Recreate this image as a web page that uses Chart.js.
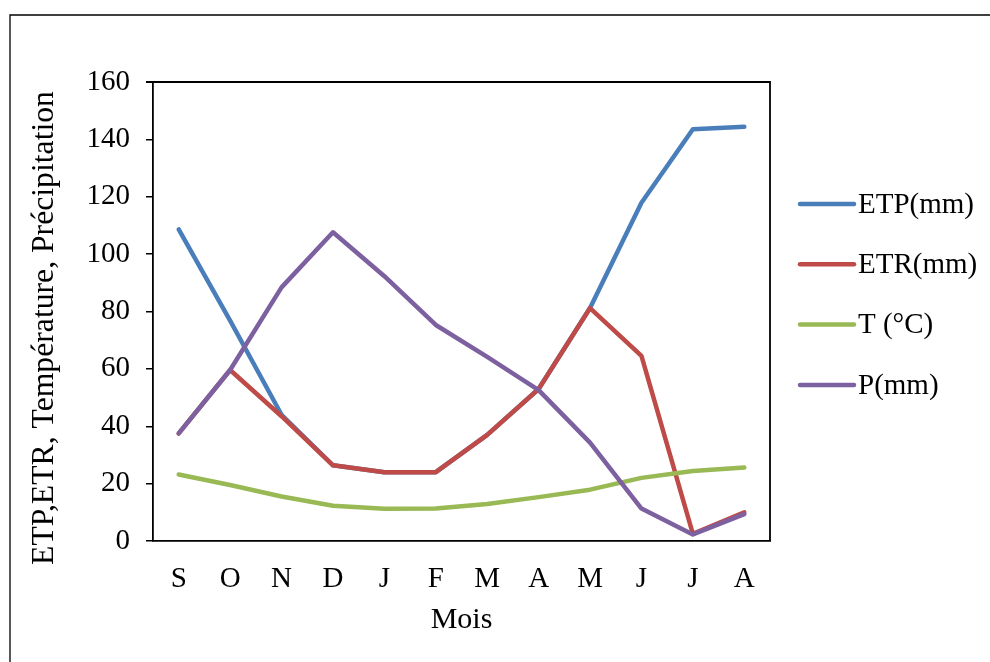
<!DOCTYPE html>
<html>
<head>
<meta charset="utf-8">
<script src="https://cdn.jsdelivr.net/npm/chart.js@4/dist/chart.umd.min.js"></script>
<style>
  html, body { margin: 0; padding: 0; background: #fff; }
  canvas { display: block; }
</style>
</head>
<body>
<canvas id="c" width="990" height="662"></canvas>
<script>
// Monthly water balance (hydrological year September → August)
const months = ['S', 'O', 'N', 'D', 'J', 'F', 'M', 'A', 'M', 'J', 'J', 'A'];
const etp    = [108.6, 76.8, 44.0, 26.4, 24.0, 24.0, 37.0, 53.0, 81.2, 117.9, 143.5, 144.4];
const etr    = [37.5, 59.6, 43.5, 26.4, 24.0, 24.0, 37.0, 53.0, 81.2, 64.5, 2.5, 10.0];
const temp   = [23.2, 19.5, 15.5, 12.3, 11.2, 11.3, 12.9, 15.3, 17.9, 22.0, 24.4, 25.6];
const precip = [37.5, 59.6, 88.4, 107.6, 92.3, 75.3, 64.2, 52.6, 34.3, 11.3, 2.3, 9.4];

const seriesNames = ['ETP(mm)', 'ETR(mm)', 'T (°C)', 'P(mm)'];
const yTicks = { min: 0, max: 160, step: 20 };
const xTitle = 'Mois';
const yTitle = 'ETP,ETR, Température, Précipitation';

const FONT = '"Liberation Serif", "Times New Roman", serif';

function series(label, data, color, order) {
  return {
    label, data, order,
    borderColor: color,
    backgroundColor: color,
    borderWidth: 4.5,
    borderCapStyle: 'round',
    borderJoinStyle: 'round',
    pointRadius: 0,
    pointHoverRadius: 0,
    tension: 0,
    fill: false
  };
}

// Page frame, plot box edges, rotated y title and the legend on the right
const decorations = {
  id: 'decorations',
  beforeDraw(chart) {
    const ctx = chart.ctx;
    ctx.save();
    ctx.fillStyle = '#fff';
    ctx.fillRect(0, 0, chart.width, chart.height);
    ctx.restore();
  },
  afterDraw(chart) {
    const { ctx, chartArea: a } = chart;
    ctx.save();

    // top and right edges of the plot box
    ctx.strokeStyle = '#000';
    ctx.lineWidth = 1.8;
    ctx.beginPath();
    ctx.moveTo(a.left - 7, a.top);
    ctx.lineTo(a.right, a.top);
    ctx.lineTo(a.right, a.bottom);
    ctx.stroke();

    // outer frame (top and left)
    ctx.lineWidth = 1.3;
    ctx.beginPath();
    ctx.moveTo(chart.width, 15);
    ctx.lineTo(10, 15);
    ctx.lineTo(10, chart.height);
    ctx.stroke();

    // y axis title
    ctx.save();
    ctx.translate(45, 328);
    ctx.rotate(-Math.PI / 2);
    ctx.font = '31.7px ' + FONT;
    ctx.fillStyle = '#000';
    ctx.textAlign = 'center';
    ctx.textBaseline = 'middle';
    ctx.fillText(yTitle, 0, 0);
    ctx.restore();

    // legend
    const x0 = 800, x1 = 854, top = 204, gap = 60.3;
    ctx.font = '29px ' + FONT;
    ctx.textAlign = 'left';
    ctx.textBaseline = 'middle';
    chart.data.datasets.forEach((ds, i) => {
      const y = top + i * gap;
      ctx.strokeStyle = ds.borderColor;
      ctx.lineWidth = 4.5;
      ctx.lineCap = 'round';
      ctx.beginPath();
      ctx.moveTo(x0, y);
      ctx.lineTo(x1, y);
      ctx.stroke();
      ctx.fillStyle = '#000';
      ctx.fillText(ds.label, x1 + 4, y + 1);
    });
    ctx.restore();
  }
};

new Chart(document.getElementById('c'), {
  type: 'line',
  data: {
    labels: months,
    datasets: [
      series(seriesNames[0], etp, '#4A7EBB', 4),
      series(seriesNames[1], etr, '#BE4B48', 3),
      series(seriesNames[2], temp, '#98B954', 2),
      series(seriesNames[3], precip, '#7D60A0', 1)
    ]
  },
  options: {
    responsive: false,
    animation: false,
    events: [],
    layout: { padding: { top: 82, right: 220, left: 0, bottom: 0 } },
    plugins: {
      legend: { display: false },
      tooltip: { enabled: false },
      title: { display: false }
    },
    scales: {
      x: {
        type: 'category',
        offset: true,
        afterFit(scale) { scale.height = 121; },
        grid: { display: false },
        border: { display: true, color: '#000', width: 1.8 },
        ticks: {
          color: '#000',
          padding: 13,
          maxRotation: 0,
          autoSkip: false,
          font: { family: FONT, size: 29 }
        },
        title: {
          display: true,
          text: xTitle,
          color: '#000',
          font: { family: FONT, size: 30 },
          padding: { top: 0, bottom: 24 }
        }
      },
      y: {
        min: yTicks.min,
        max: yTicks.max,
        afterFit(scale) { scale.width = 153; },
        grid: {
          drawOnChartArea: false,
          drawTicks: true,
          tickLength: 7,
          color: '#000',
          lineWidth: 1.5
        },
        border: { display: true, color: '#000', width: 1.8 },
        ticks: {
          stepSize: yTicks.step,
          color: '#000',
          padding: 16,
          font: { family: FONT, size: 29 }
        }
      }
    }
  },
  plugins: [decorations]
});
</script>
</body>
</html>
